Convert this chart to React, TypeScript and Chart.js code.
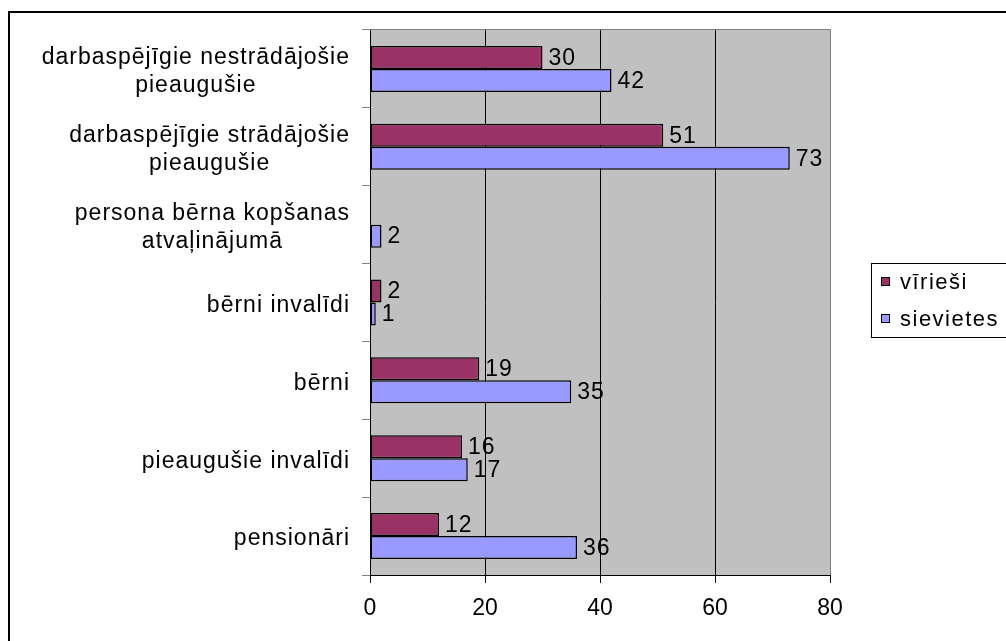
import { useEffect, useRef } from "react";
import { Chart, registerables } from "chart.js";

Chart.register(...registerables);

const categories: string[][] = [
  ["darbaspējīgie nestrādājošie", "pieaugušie"],
  ["darbaspējīgie strādājošie", "pieaugušie"],
  ["persona bērna kopšanas", "atvaļinājumā"],
  ["bērni invalīdi"],
  ["bērni"],
  ["pieaugušie invalīdi"],
  ["pensionāri"],
];
const seriesNames = ["vīrieši", "sievietes"];
const maleValues: (number | null)[] = [30, 51, null, 2, 19, 16, 12];
const femaleValues: (number | null)[] = [42, 73, 2, 1, 35, 17, 36];
const xMin = 0;
const xMax = 80;
const xStep = 20;

const FONT = '"Liberation Sans", Arial, sans-serif';
const COLORS = ["#993366", "#9999ff"];

const backgroundPlugin = {
  id: "bgPlugin",
  beforeDraw(chart: any) {
    const { ctx, chartArea } = chart;
    ctx.save();
    ctx.fillStyle = "#ffffff";
    ctx.fillRect(0, 0, chart.width, chart.height);
    ctx.lineWidth = 2;
    ctx.strokeStyle = "#000000";
    ctx.strokeRect(9, 12, 1200, 900);
    ctx.fillStyle = "#c0c0c0";
    ctx.fillRect(chartArea.left, chartArea.top, chartArea.right - chartArea.left, chartArea.bottom - chartArea.top);
    ctx.lineWidth = 1;
    ctx.strokeStyle = "#808080";
    ctx.beginPath();
    ctx.moveTo(chartArea.left, chartArea.top - 0.5);
    ctx.lineTo(chartArea.right + 0.5, chartArea.top - 0.5);
    ctx.lineTo(chartArea.right + 0.5, chartArea.bottom);
    ctx.stroke();
    ctx.restore();
  },
};

const valueLabelPlugin = {
  id: "valueLabels",
  afterDatasetsDraw(chart: any) {
    const { ctx } = chart;
    ctx.save();
    ctx.font = `23px ${FONT}`;
    ctx.fillStyle = "#000";
    ctx.textAlign = "left";
    ctx.textBaseline = "middle";
    (ctx as any).letterSpacing = "1px";
    chart.data.datasets.forEach((ds: any, di: number) => {
      const meta = chart.getDatasetMeta(di);
      meta.data.forEach((el: any, i: number) => {
        const v = ds.data[i];
        if (v === null || v === undefined) return;
        ctx.fillText(String(v), el.x + 6, el.y + 1);
      });
    });
    ctx.restore();
  },
};

const categoryLabelPlugin = {
  id: "catLabels",
  afterDraw(chart: any) {
    const { ctx } = chart;
    const yScale = chart.scales.y;
    ctx.save();
    ctx.font = `23px ${FONT}`;
    ctx.fillStyle = "#000";
    ctx.textBaseline = "middle";
    ctx.textAlign = "center";
    (ctx as any).letterSpacing = "1px";
    const rightEdge = 350;
    const lineH = 28;
    categories.forEach((lines, i) => {
      const cy = yScale.getPixelForValue(i);
      const maxW = Math.max(...lines.map((l) => ctx.measureText(l).width));
      const cx = rightEdge - maxW / 2;
      const startY = cy - ((lines.length - 1) * lineH) / 2 + 3;
      lines.forEach((l, li) => {
        ctx.fillText(l, cx, startY + li * lineH);
      });
    });
    ctx.restore();
  },
};

const legendPlugin = {
  id: "customLegend",
  afterDraw(chart: any) {
    const { ctx } = chart;
    ctx.save();
    ctx.lineWidth = 1;
    ctx.strokeStyle = "#000";
    ctx.strokeRect(871.5, 263.5, 300, 74);
    ctx.font = `22px ${FONT}`;
    ctx.textBaseline = "middle";
    ctx.textAlign = "left";
    (ctx as any).letterSpacing = "1.5px";
    const ys = [282, 319];
    seriesNames.forEach((name, i) => {
      const y = ys[i];
      ctx.fillStyle = COLORS[i];
      ctx.fillRect(881, y - 4, 8, 8);
      ctx.strokeStyle = "#000";
      ctx.strokeRect(881.5, y - 4.5, 8, 8);
      ctx.fillStyle = "#000";
      ctx.fillText(name, 900, y + 1);
    });
    ctx.restore();
  },
};

export default function App() {
  const canvasRef = useRef<HTMLCanvasElement | null>(null);

  useEffect(() => {
    if (!canvasRef.current) return;
    const chart = new Chart(canvasRef.current, {
      type: "bar",
      data: {
        labels: categories.map((c) => c.join(" ")),
        datasets: [
          {
            label: seriesNames[0],
            data: maleValues,
            backgroundColor: COLORS[0],
            borderColor: "#000",
            borderWidth: 1.5,
            borderSkipped: false,
            categoryPercentage: 0.591,
            barPercentage: 1,
          },
          {
            label: seriesNames[1],
            data: femaleValues,
            backgroundColor: COLORS[1],
            borderColor: "#000",
            borderWidth: 1.5,
            borderSkipped: false,
            categoryPercentage: 0.591,
            barPercentage: 1,
          },
        ] as any,
      },
      options: {
        indexAxis: "y",
        responsive: false,
        animation: false,
        layout: { padding: { top: 30, right: 176, left: 0, bottom: 0 } },
        plugins: {
          legend: { display: false },
          tooltip: { enabled: false },
          title: { display: false },
        },
        scales: {
          x: {
            type: "linear",
            min: xMin,
            max: xMax,
            ticks: {
              stepSize: xStep,
              font: { family: FONT, size: 23 },
              color: "#000",
              padding: 12,
            },
            grid: {
              color: (c: any) => (c.tick && c.tick.value === xMax ? "#808080" : "#000"),
              lineWidth: 1,
              tickLength: 8,
              tickColor: "#000",
            },
            border: { color: "#000", width: 1 },
            afterFit: (s: any) => {
              s.height = 66;
            },
          },
          y: {
            type: "category",
            offset: true,
            ticks: { display: false },
            grid: {
              drawOnChartArea: false,
              offset: true,
              tickLength: 8,
              color: "#808080",
            },
            border: { color: "#000", width: 1 },
            afterFit: (s: any) => {
              s.width = 370;
            },
          },
        } as any,
      },
      plugins: [backgroundPlugin, valueLabelPlugin, categoryLabelPlugin, legendPlugin],
    });
    return () => chart.destroy();
  }, []);

  return (
    <div style={{ position: "fixed", left: 0, top: 0, width: 1006, height: 641, background: "#fff" }}>
      <canvas ref={canvasRef} width={1006} height={641} style={{ display: "block" }} />
    </div>
  );
}
